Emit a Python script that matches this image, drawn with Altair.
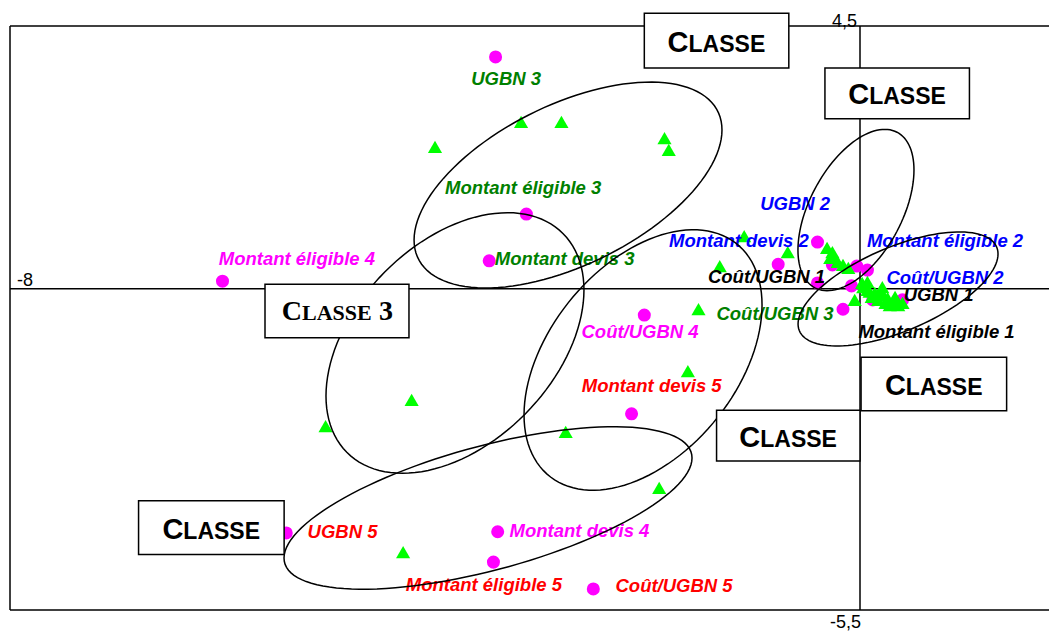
import altair as alt
import pandas as pd
import numpy as np

# ---------------- data (factor-map coordinates) ----------------
# individuals (green triangles)
tri_x = [-4.00, -3.19, -2.81, -1.84, -1.80, -1.09, -0.68, -1.32, -1.52, -5.03,
         -4.22, -2.77, -1.62, -1.89, -4.30, -0.05,
         -0.31, -0.26, -0.24, -0.21, -0.16, -0.28, -0.11, 0.03, 0.07, 0.09,
         0.14, 0.19, 0.22, 0.26, 0.31, 0.36, 0.11, 0.17, 0.24, 0.28,
         0.07, 0.02, 0.21, 0.33, 0.40]
tri_y = [2.43, 2.86, 2.86, 2.58, 2.38, 0.90, 0.63, 0.39, -0.35, -2.35,
         -1.90, -2.45, -1.41, -3.41, -4.51, -0.19,
         0.70, 0.63, 0.54, 0.46, 0.41, 0.53, 0.36, 0.03, -0.02, -0.05,
         -0.07, -0.05, -0.11, -0.16, -0.23, -0.28, -0.14, -0.19, -0.24, -0.28,
         0.12, 0.10, 0.03, -0.14, -0.24]

# modalities (magenta circles)
mod_x = [-6.00, -3.43, -3.14, -3.49, -0.77, -2.03, -0.40, -0.40, -0.03, 0.07,
         -0.08, -0.16, -0.26, 0.12, 0.40, -2.15, -3.41, -3.45, -2.51, -5.40]
mod_y = [0.13, 3.97, 1.28, 0.48, 0.42, -0.45, 0.80, 0.10, 0.39, 0.32,
         0.05, -0.35, 0.41, -0.19, -0.19, -2.14, -4.16, -4.68, -5.14, -4.18]

# modality labels
lab_text = ["Montant éligible 4", "UGBN 3", "Montant éligible 3", "Montant devis 3",
            "Montant devis 2", "UGBN 2", "Coût/UGBN 1", "Montant éligible 2",
            "Coût/UGBN 2", "UGBN 1", "Coût/UGBN 3", "Montant éligible 1",
            "Coût/UGBN 4", "Montant devis 5", "UGBN 5", "Montant devis 4",
            "Montant éligible 5", "Coût/UGBN 5"]
lab_x = [-5.30, -3.33, -3.17, -2.78, -1.14, -0.61, -0.88, 0.80, 0.80, 0.74,
         -0.80, 0.72, -2.07, -1.96, -4.87, -2.64, -3.54, -1.75]
lab_y = [0.51, 3.59, 1.73, 0.51, 0.82, 1.45, 0.20, 0.82, 0.18, -0.11,
         -0.43, -0.74, -0.74, -1.66, -4.16, -4.15, -5.07, -5.09]
lab_class = ["4", "3", "3", "3", "2", "2", "1", "2", "2", "1",
             "3", "1", "4", "5", "5", "4", "5", "5"]
class_names = ["1", "2", "3", "4", "5"]
class_colors = ["#000000", "#0000ff", "#008000", "#ff00ff", "#ff0000"]

# ellipses: centre and conjugate half-axes (data units)
ell_cx = [-2.748, -3.812, -2.042, -3.501, -0.038, 0.358]
ell_cy = [1.777, -0.928, -1.219, -3.753, 1.349, -0.003]
ell_ax = [1.449, 1.214, 1.120, 1.920, 0.546, 0.941]
ell_ay = [0.942, 0.908, 0.942, 0.856, 0.685, 0.599]
ell_by = [1.490, 2.038, 2.021, 1.096, 1.199, 0.771]

# class boxes
box_x1 = [-2.03, -0.33, -5.60, 0.01, -1.35, -6.79]
box_x2 = [-0.67, 1.03, -4.245, 1.38, 0.00, -5.42]
box_y1 = [4.72, 3.78, 0.08, -1.17, -2.08, -3.63]
box_y2 = [3.78, 2.91, -0.84, -2.09, -2.95, -4.55]
box_serif = [False, False, True, False, False, False]

X_DOMAIN = [-8, 1.7788]
Y_DOMAIN = [-5.5, 4.5]

# ---------------- tables ----------------
tri_df = pd.DataFrame({"x": tri_x, "y": tri_y})
mod_df = pd.DataFrame({"x": mod_x, "y": mod_y})
lab_df = pd.DataFrame({"x": lab_x, "y": lab_y, "text": lab_text, "cls": lab_class})

rows = []
n = 120
for i in range(len(ell_cx)):
    for k in range(n + 1):
        t = 2 * np.pi * k / n
        rows.append({"e": i, "k": k,
                     "x": ell_cx[i] + ell_ax[i] * np.cos(t),
                     "y": ell_cy[i] + ell_ay[i] * np.cos(t) + ell_by[i] * np.sin(t)})
ell_df = pd.DataFrame(rows)

box_df = pd.DataFrame({"x1": box_x1, "x2": box_x2, "y1": box_y1, "y2": box_y2,
                       "serif": box_serif})
box_df["cx"] = (box_df.x1 + box_df.x2) / 2
box_df["cy"] = (box_df.y1 + box_df.y2) / 2
sans_df = box_df[~box_df.serif]
serif_df = box_df[box_df.serif]

xs = alt.Scale(domain=X_DOMAIN, nice=False, zero=False)
ys = alt.Scale(domain=Y_DOMAIN, nice=False, zero=False)
X = lambda f: alt.X(f, type="quantitative", scale=xs, axis=None)
Y = lambda f: alt.Y(f, type="quantitative", scale=ys, axis=None)

# frame (open on the right) and the two factor axes
hframe_df = pd.DataFrame({"y": [Y_DOMAIN[0], Y_DOMAIN[1], 0],
                          "x1": [X_DOMAIN[0]] * 3, "x2": [X_DOMAIN[1]] * 3})
vframe_df = pd.DataFrame({"x": [X_DOMAIN[0], 0],
                          "y1": [Y_DOMAIN[0]] * 2, "y2": [Y_DOMAIN[1]] * 2})
hrules = alt.Chart(hframe_df).mark_rule(color="black", strokeWidth=1.5).encode(
    y=Y("y"), x=X("x1"), x2="x2")
vrules = alt.Chart(vframe_df).mark_rule(color="black", strokeWidth=1.5).encode(
    x=X("x"), y=Y("y1"), y2="y2")

ax_lab = pd.DataFrame({"x": [0, 0, -8], "y": [4.5, -5.5, 0],
                       "t": ["4,5", "-5,5", "-8"]})
lab45 = alt.Chart(ax_lab.iloc[[0]]).mark_text(
    font="Liberation Sans", fontSize=18, align="right", baseline="alphabetic",
    dx=-3, dy=1, color="black").encode(x=X("x"), y=Y("y"), text="t:N")
lab55 = alt.Chart(ax_lab.iloc[[1]]).mark_text(
    font="Liberation Sans", fontSize=18, align="right", baseline="alphabetic",
    dx=1, dy=18, color="black").encode(x=X("x"), y=Y("y"), text="t:N")
lab8 = alt.Chart(ax_lab.iloc[[2]]).mark_text(
    font="Liberation Sans", fontSize=18, align="left", baseline="alphabetic",
    dx=7, dy=-3, color="black").encode(x=X("x"), y=Y("y"), text="t:N")

circles = alt.Chart(mod_df).mark_point(
    shape="circle", filled=True, size=170, color="#ff00ff", opacity=1).encode(
    x=X("x"), y=Y("y"))
triangles = alt.Chart(tri_df).mark_point(
    shape="triangle-up", filled=True, size=200, color="#00ff00", opacity=1).encode(
    x=X("x"), y=Y("y"))

labels = alt.Chart(lab_df).mark_text(
    font="Liberation Sans", fontStyle="italic", fontWeight="bold", fontSize=18.5,
    align="center", baseline="middle").encode(
    x=X("x"), y=Y("y"), text="text:N",
    color=alt.Color("cls:N", scale=alt.Scale(domain=class_names, range=class_colors),
                    legend=None))

ellipses = alt.Chart(ell_df).mark_line(color="black", strokeWidth=1.5).encode(
    x=X("x"), y=Y("y"), detail="e:N", order="k:Q")

boxes = alt.Chart(box_df).mark_rect(fill="white", stroke="black", strokeWidth=1.5).encode(
    x=X("x1"), x2="x2", y=Y("y1"), y2="y2")

sans_c = alt.Chart(sans_df).transform_calculate(t="'C'").mark_text(
    font="Liberation Sans", fontWeight="bold", fontSize=29, align="right",
    baseline="alphabetic", dx=-28, dy=11, color="black").encode(
    x=X("cx"), y=Y("cy"), text="t:N")
sans_rest = alt.Chart(sans_df).transform_calculate(t="'LASSE'").mark_text(
    font="Liberation Sans", fontWeight="bold", fontSize=23, align="left",
    baseline="alphabetic", dx=-28, dy=11, color="black").encode(
    x=X("cx"), y=Y("cy"), text="t:N")
serif_c = alt.Chart(serif_df).transform_calculate(t="'C'").mark_text(
    font="Liberation Serif", fontWeight="bold", fontSize=28, align="right",
    baseline="alphabetic", dx=-35, dy=9, color="black").encode(
    x=X("cx"), y=Y("cy"), text="t:N")
serif_rest = alt.Chart(serif_df).transform_calculate(t="'LASSE'").mark_text(
    font="Liberation Serif", fontWeight="bold", fontSize=22, align="left",
    baseline="alphabetic", dx=-35, dy=9, color="black").encode(
    x=X("cx"), y=Y("cy"), text="t:N")
serif_3 = alt.Chart(serif_df).transform_calculate(t="'3'").mark_text(
    font="Liberation Serif", fontWeight="bold", fontSize=28, align="right",
    baseline="alphabetic", dx=56, dy=9, color="black").encode(
    x=X("cx"), y=Y("cy"), text="t:N")

chart = alt.layer(
    hrules, vrules, circles, triangles, labels, ellipses, boxes,
    sans_c, sans_rest, serif_c, serif_rest, serif_3, lab45, lab55, lab8
).properties(
    width=1039, height=584,
    padding={"left": 2, "top": 18, "right": 0, "bottom": 22},
    autosize="none",
    background="white",
).configure_view(stroke=None)

chart.save("out.html", embed_options={"renderer": "svg", "actions": False})
